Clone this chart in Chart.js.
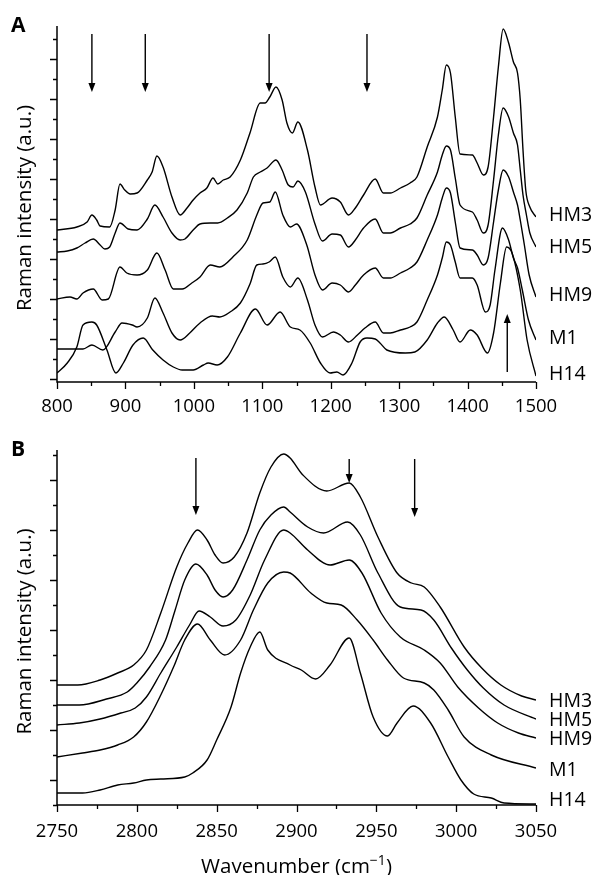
<!DOCTYPE html>
<html>
<head>
<meta charset="utf-8">
<script src="https://cdn.jsdelivr.net/npm/chart.js@4.4.1/dist/chart.umd.min.js"></script>
<style>
  html, body { margin: 0; padding: 0; background: #fff; }
  #wrap { position: relative; width: 597px; height: 875px; overflow: hidden; }
  #chartA { position: absolute; left: 0; top: 0; }
  #chartB { position: absolute; left: 0; top: 430px; }
</style>
</head>
<body>
<div id="wrap">
  <canvas id="chartA" width="597" height="430"></canvas>
  <canvas id="chartB" width="597" height="445"></canvas>
</div>
<script>
// series names, same order in both panels
const seriesNames = ['HM3', 'HM5', 'HM9', 'M1', 'H14'];

// ---- panel A: 800-1500 cm-1 (intensity in arbitrary units, stacked) ----
const aWnHM3 = [800, 829, 844, 851, 858, 863, 877, 885, 892, 899, 907, 917, 932, 939, 946, 955, 968, 980, 990, 999, 1009, 1019, 1028, 1035, 1043, 1053, 1068, 1082, 1097, 1104, 1111, 1120, 1129, 1136, 1144, 1152, 1166, 1177, 1185, 1202, 1214, 1226, 1236, 1248, 1265, 1277, 1287, 1302, 1316, 1326, 1341, 1356, 1363, 1369, 1375, 1382, 1389, 1407, 1414, 1423, 1430, 1438, 1445, 1452, 1460, 1467, 1473, 1477, 1481, 1485, 1491, 1500];
const aIntHM3 = [149, 152, 157, 164, 159, 153, 152, 169, 195, 189, 185, 186, 199, 207, 223, 212, 182, 164, 171, 179, 186, 191, 201, 195, 199, 202, 219, 246, 276, 276, 282, 292, 279, 256, 246, 257, 229, 192, 174, 181, 177, 164, 171, 184, 200, 186, 186, 191, 196, 202, 232, 262, 289, 314, 306, 262, 225, 224, 216, 204, 212, 262, 312, 350, 336, 317, 306, 279, 229, 189, 172, 162];

const aWnHM5 = [800, 815, 829, 841, 853, 863, 870, 877, 885, 892, 904, 917, 932, 943, 955, 968, 980, 987, 999, 1009, 1024, 1035, 1049, 1063, 1078, 1087, 1097, 1107, 1120, 1129, 1138, 1145, 1152, 1163, 1177, 1188, 1202, 1214, 1226, 1236, 1248, 1265, 1277, 1287, 1302, 1316, 1326, 1341, 1356, 1363, 1369, 1375, 1382, 1389, 1407, 1414, 1423, 1430, 1438, 1445, 1452, 1460, 1467, 1473, 1477, 1481, 1486, 1491, 1500];
const aIntHM5 = [127, 128, 131, 136, 140, 134, 130, 132, 146, 156, 150, 149, 160, 174, 162, 146, 139, 140, 149, 155, 156, 156, 161, 169, 186, 202, 207, 211, 219, 209, 194, 192, 198, 187, 155, 138, 145, 144, 132, 139, 151, 160, 146, 146, 151, 155, 161, 184, 207, 224, 233, 229, 201, 174, 167, 159, 146, 154, 199, 244, 271, 262, 246, 234, 209, 184, 164, 146, 132];

const aWnHM9 = [800, 819, 829, 838, 853, 866, 875, 892, 902, 917, 932, 946, 958, 970, 983, 997, 1009, 1024, 1038, 1057, 1078, 1092, 1101, 1111, 1119, 1130, 1141, 1150, 1165, 1177, 1188, 1202, 1214, 1226, 1236, 1248, 1265, 1277, 1287, 1302, 1316, 1326, 1341, 1356, 1363, 1369, 1375, 1382, 1389, 1407, 1414, 1423, 1430, 1438, 1445, 1452, 1460, 1467, 1473, 1477, 1483, 1490, 1500];
const aIntHM9 = [80, 82, 80, 86, 90, 79, 80, 112, 106, 104, 109, 126, 109, 90, 90, 96, 102, 114, 112, 122, 139, 164, 176, 177, 187, 164, 152, 155, 134, 104, 89, 96, 94, 87, 94, 104, 111, 101, 101, 106, 111, 117, 139, 164, 181, 191, 186, 157, 131, 129, 124, 114, 121, 157, 189, 209, 202, 187, 174, 159, 134, 104, 82];

const aWnM1 = [800, 838, 851, 867, 885, 895, 910, 917, 932, 943, 955, 968, 980, 994, 1009, 1027, 1038, 1053, 1068, 1082, 1092, 1101, 1110, 1119, 1130, 1141, 1152, 1166, 1177, 1188, 1204, 1214, 1226, 1239, 1250, 1265, 1277, 1287, 1302, 1316, 1326, 1341, 1356, 1363, 1369, 1375, 1382, 1389, 1407, 1414, 1426, 1433, 1440, 1451, 1460, 1467, 1473, 1480, 1489, 1500];
const aIntM1 = [30, 30, 34, 29, 47, 56, 54, 52, 61, 81, 66, 46, 39, 46, 56, 63, 62, 67, 76, 95, 114, 115, 117, 122, 102, 92, 101, 79, 54, 42, 47, 44, 37, 44, 51, 57, 46, 46, 49, 52, 57, 79, 104, 121, 137, 134, 117, 101, 101, 94, 67, 74, 109, 151, 139, 121, 111, 89, 59, 39];

const aWnH14 = [800, 815, 829, 838, 851, 858, 873, 886, 897, 911, 926, 940, 955, 970, 983, 999, 1014, 1021, 1034, 1049, 1068, 1090, 1107, 1126, 1141, 1155, 1170, 1185, 1199, 1209, 1218, 1231, 1243, 1253, 1265, 1272, 1282, 1309, 1323, 1341, 1356, 1366, 1379, 1389, 1404, 1414, 1429, 1438, 1448, 1457, 1465, 1477, 1487, 1500];
const aIntH14 = [6, 16, 32, 54, 57, 54, 29, 6, 16, 34, 41, 29, 19, 12, 9, 9, 14, 16, 14, 22, 46, 70, 54, 67, 52, 49, 36, 16, 6, 7, 4, 16, 37, 41, 40, 36, 29, 26, 27, 39, 56, 62, 49, 37, 49, 44, 26, 46, 96, 132, 126, 89, 39, 3];

// arrows in panel A: wavenumber, start and tip intensity
const aArrowWn = [851, 929, 1110, 1253, 1458];
const aArrowFrom = [345, 345, 345, 345, 7];
const aArrowTo = [287, 287, 287, 287, 65];

// ---- panel B: 2750-3050 cm-1 ----
const bWnHM3 = [2750, 2763, 2777, 2788, 2798, 2806, 2815, 2825, 2832, 2838, 2844, 2849, 2854, 2861, 2869, 2877, 2884, 2892, 2896, 2904, 2919, 2933, 2940, 2951, 2963, 2972, 2980, 2990, 3005, 3016, 3028, 3041, 3050];
const bIntHM3 = [120, 120, 125, 132, 140, 155, 192, 238, 262, 275, 265, 250, 242, 248, 272, 312, 338, 351, 347, 330, 314, 322, 308, 268, 232, 222, 218, 198, 158, 137, 120, 109, 105];

const bWnHM5 = [2750, 2764, 2781, 2794, 2800, 2808, 2818, 2824, 2830, 2837, 2844, 2849, 2854, 2860, 2869, 2877, 2884, 2892, 2896, 2907, 2917, 2932, 2940, 2951, 2965, 2978, 2986, 2997, 3007, 3017, 3030, 3050];
const bIntHM5 = [100, 100, 106, 113, 122, 138, 165, 195, 225, 241, 230, 215, 208, 215, 245, 275, 290, 298, 293, 278, 272, 283, 270, 232, 198, 195, 185, 157, 135, 117, 100, 86];

const bWnHM9 = [2750, 2764, 2777, 2790, 2799, 2806, 2815, 2825, 2833, 2839, 2846, 2854, 2862, 2871, 2880, 2892, 2896, 2907, 2921, 2933, 2941, 2953, 2965, 2980, 2990, 3001, 3014, 3026, 3039, 3050];
const bIntHM9 = [80, 82, 86, 92, 97, 108, 132, 158, 180, 194, 188, 179, 185, 210, 245, 275, 272, 255, 240, 245, 232, 192, 168, 155, 142, 118, 97, 82, 72, 67];

const bWnM1 = [2750, 2766, 2777, 2788, 2798, 2806, 2815, 2823, 2830, 2838, 2846, 2855, 2865, 2873, 2882, 2892, 2896, 2909, 2919, 2928, 2938, 2948, 2957, 2967, 2980, 2986, 2995, 3005, 3022, 3050];
const bIntM1 = [48, 52, 55, 60, 68, 83, 110, 138, 165, 181, 165, 150, 165, 195, 222, 233, 232, 212, 202, 200, 185, 165, 145, 127, 122, 115, 95, 68, 50, 37];

const bWnH14 = [2750, 2766, 2777, 2788, 2798, 2806, 2815, 2830, 2835, 2844, 2850, 2859, 2865, 2871, 2877, 2882, 2896, 2903, 2912, 2921, 2933, 2940, 2948, 2957, 2963, 2973, 2984, 2995, 3003, 3011, 3022, 3030, 3050];
const bIntH14 = [12, 12, 15, 20, 22, 25, 26, 28, 32, 45, 65, 98, 132, 158, 173, 155, 140, 135, 126, 140, 167, 132, 88, 69, 82, 99, 82, 48, 25, 11, 7, 2, 1];

const bArrowWn = [2837, 2933, 2974];
const bArrowFrom = [347, 346, 346];
const bArrowTo = [290, 322, 288];

const FONT = '"Open Sans", "DejaVu Sans", sans-serif';
Chart.defaults.font.family = FONT;
Chart.defaults.color = '#000';

// axis lines, minor/major ticks, arrows, end labels and titles
const panelDecor = {
  id: 'panelDecor',
  afterDraw(chart) {
    const o = chart.options.plugins.panelDecor;
    const ctx = chart.ctx;
    const xs = chart.scales.x, ys = chart.scales.y;
    const a = chart.chartArea;
    ctx.save();
    ctx.strokeStyle = '#000';
    ctx.fillStyle = '#000';

    ctx.lineWidth = 1.5;
    ctx.beginPath();
    ctx.moveTo(a.left, a.top);
    ctx.lineTo(a.left, a.bottom);
    ctx.lineTo(a.right, a.bottom);
    ctx.stroke();

    ctx.lineWidth = 1.3;
    ctx.beginPath();
    for (let v = xs.min; v <= xs.max; v += o.xMinor) {
      const px = Math.round(xs.getPixelForValue(v)) + 0.5;
      const len = v % o.xMajor === 0 ? 7 : 4;
      ctx.moveTo(px, a.bottom);
      ctx.lineTo(px, a.bottom + len);
    }
    for (let v = 0; v <= o.yTickMax; v += o.yStep) {
      const py = Math.round(ys.getPixelForValue(v)) + 0.5;
      const len = (v - o.yMajorOffset) % o.yMajor === 0 ? 7 : 4;
      ctx.moveTo(a.left, py);
      ctx.lineTo(a.left - len, py);
    }
    ctx.stroke();

    // arrows
    o.arrows.wn.forEach((w, i) => {
      const px = xs.getPixelForValue(w);
      const y0 = ys.getPixelForValue(o.arrows.from[i]);
      const y1 = ys.getPixelForValue(o.arrows.to[i]);
      const dir = y1 > y0 ? 1 : -1;
      const head = 9;
      ctx.lineWidth = 1.4;
      ctx.beginPath();
      ctx.moveTo(px, y0);
      ctx.lineTo(px, y1 - dir * head);
      ctx.stroke();
      ctx.beginPath();
      ctx.moveTo(px, y1);
      ctx.lineTo(px - 3.5, y1 - dir * head);
      ctx.lineTo(px + 3.5, y1 - dir * head);
      ctx.closePath();
      ctx.fill();
    });

    // series labels at the right end of each trace
    ctx.font = '19.5px ' + FONT;
    ctx.textAlign = 'left';
    ctx.textBaseline = 'middle';
    chart.data.datasets.forEach((ds, i) => {
      const last = ds.data[ds.data.length - 1];
      const py = ys.getPixelForValue(last.y) + o.labelNudge[i];
      ctx.fillText(ds.label, a.right + 13, py);
    });

    // panel letter
    ctx.font = 'bold 21px ' + FONT;
    ctx.textBaseline = 'alphabetic';
    ctx.fillText(o.letter, 11, o.letterY);

    // y title
    ctx.font = '20.5px ' + FONT;
    ctx.save();
    ctx.translate(31, (a.top + a.bottom) / 2 + 4);
    ctx.rotate(-Math.PI / 2);
    ctx.textAlign = 'center';
    ctx.fillText('Raman intensity (a.u.)', 0, 0);
    ctx.restore();

    // x title
    if (o.xTitle) {
      const main = 'Wavenumber (cm';
      const sup = '\u22121';
      const end = ')';
      ctx.font = '20.5px ' + FONT;
      const wMain = ctx.measureText(main).width;
      const wEnd = ctx.measureText(end).width;
      ctx.font = '14px ' + FONT;
      const wSup = ctx.measureText(sup).width;
      let x = (a.left + a.right) / 2 - (wMain + wSup + wEnd) / 2;
      const base = o.xTitleY;
      ctx.textAlign = 'left';
      ctx.font = '20.5px ' + FONT;
      ctx.fillText(main, x, base);
      x += wMain;
      ctx.font = '14px ' + FONT;
      ctx.fillText(sup, x, base - 8);
      x += wSup;
      ctx.font = '20.5px ' + FONT;
      ctx.fillText(end, x, base);
    }
    ctx.restore();
  }
};

function makePanel(canvasId, p) {
  const datasets = p.series.map((s) => ({
    label: s.name,
    data: s.wn.map((w, i) => ({ x: w, y: s.val[i] })),
    borderColor: '#000',
    borderWidth: 1.4,
    pointRadius: 0,
    fill: false,
    cubicInterpolationMode: 'monotone'
  }));
  return new Chart(document.getElementById(canvasId), {
    type: 'line',
    data: { datasets: datasets },
    options: {
      responsive: false,
      animation: false,
      devicePixelRatio: 1,
      layout: { padding: { left: 0, right: 61, top: p.padTop, bottom: 0 } },
      plugins: {
        legend: { display: false },
        tooltip: { enabled: false },
        panelDecor: p.decor
      },
      scales: {
        x: {
          type: 'linear',
          min: p.xMin,
          max: p.xMax,
          grid: { display: false, drawTicks: false },
          border: { display: false },
          ticks: {
            stepSize: p.xLabelStep,
            padding: p.xLabelPad,
            font: { size: 18.5 },
            color: '#000',
            maxRotation: 0,
            autoSkip: false,
            callback: (v) => String(v)
          },
          afterFit: (s) => { s.height = p.xHeight; }
        },
        y: {
          min: p.yMin,
          max: p.yMax,
          grid: { display: false, drawTicks: false },
          border: { display: false },
          ticks: { display: false },
          afterFit: (s) => { s.width = 57; }
        }
      }
    },
    plugins: [panelDecor]
  });
}

makePanel('chartA', {
  series: [
    { name: seriesNames[0], wn: aWnHM3, val: aIntHM3 },
    { name: seriesNames[1], wn: aWnHM5, val: aIntHM5 },
    { name: seriesNames[2], wn: aWnHM9, val: aIntHM9 },
    { name: seriesNames[3], wn: aWnM1, val: aIntM1 },
    { name: seriesNames[4], wn: aWnH14, val: aIntH14 }
  ],
  xMin: 800, xMax: 1500, xLabelStep: 100, xLabelPad: 13.5,
  yMin: -3, yMax: 353,
  padTop: 26, xHeight: 48,
  decor: {
    letter: 'A', letterY: 32,
    xMinor: 50, xMajor: 100,
    yStep: 20, yMajor: 40, yMajorOffset: 0, yTickMax: 340,
    arrows: { wn: aArrowWn, from: aArrowFrom, to: aArrowTo },
    labelNudge: [-2, 0, -2, -2, -2],
    xTitle: false
  }
});

makePanel('chartB', {
  series: [
    { name: seriesNames[0], wn: bWnHM3, val: bIntHM3 },
    { name: seriesNames[1], wn: bWnHM5, val: bIntHM5 },
    { name: seriesNames[2], wn: bWnHM9, val: bIntHM9 },
    { name: seriesNames[3], wn: bWnM1, val: bIntM1 },
    { name: seriesNames[4], wn: bWnH14, val: bIntH14 }
  ],
  xMin: 2750, xMax: 3050, xLabelStep: 50, xLabelPad: 16,
  yMin: 0, yMax: 355,
  padTop: 20, xHeight: 70,
  decor: {
    letter: 'B', letterY: 26,
    xMinor: 25, xMajor: 50,
    yStep: 25, yMajor: 50, yMajorOffset: 25, yTickMax: 350,
    arrows: { wn: bArrowWn, from: bArrowFrom, to: bArrowTo },
    labelNudge: [1, 1, 1, 2, -4],
    xTitle: true, xTitleY: 443
  }
});
</script>
</body>
</html>
